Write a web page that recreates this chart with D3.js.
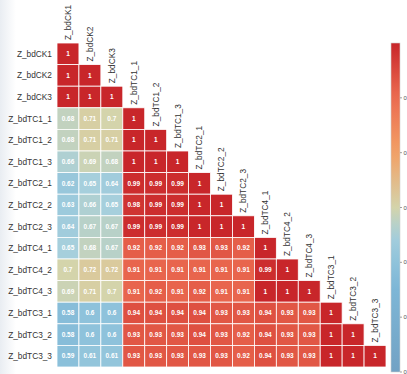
<!DOCTYPE html>
<html>
<head>
<meta charset="utf-8">
<script src="https://cdn.jsdelivr.net/npm/d3@7"></script>
<style>
html,body{margin:0;padding:0;background:#fff;overflow:hidden;}
svg{display:block;}
text{font-family:"Liberation Sans",Arial,sans-serif;}
</style>
</head>
<body>
<div id="chart"></div>
<script>
const variables = ["Z_bdCK1","Z_bdCK2","Z_bdCK3","Z_bdTC1_1","Z_bdTC1_2","Z_bdTC1_3",
  "Z_bdTC2_1","Z_bdTC2_2","Z_bdTC2_3","Z_bdTC4_1","Z_bdTC4_2","Z_bdTC4_3",
  "Z_bdTC3_1","Z_bdTC3_2","Z_bdTC3_3"];

// lower-triangular correlation rows (row i has i+1 values)
const corrRows = [
  [1],
  [1, 1],
  [1, 1, 1],
  [0.68, 0.71, 0.7, 1],
  [0.68, 0.71, 0.71, 1, 1],
  [0.66, 0.69, 0.68, 1, 1, 1],
  [0.62, 0.65, 0.64, 0.99, 0.99, 0.99, 1],
  [0.63, 0.66, 0.65, 0.98, 0.99, 0.99, 1, 1],
  [0.64, 0.67, 0.67, 0.99, 0.99, 0.99, 1, 1, 1],
  [0.65, 0.68, 0.67, 0.92, 0.92, 0.92, 0.93, 0.93, 0.92, 1],
  [0.7, 0.72, 0.72, 0.91, 0.91, 0.91, 0.91, 0.91, 0.91, 0.99, 1],
  [0.69, 0.71, 0.7, 0.91, 0.92, 0.91, 0.92, 0.91, 0.91, 1, 1, 1],
  [0.58, 0.6, 0.6, 0.94, 0.94, 0.94, 0.94, 0.93, 0.93, 0.94, 0.93, 0.93, 1],
  [0.58, 0.6, 0.6, 0.93, 0.93, 0.93, 0.94, 0.93, 0.92, 0.94, 0.93, 0.93, 1, 1],
  [0.59, 0.61, 0.61, 0.93, 0.93, 0.93, 0.93, 0.93, 0.92, 0.94, 0.93, 0.93, 1, 1, 1]
];

const colorStops = [0.4, 0.55, 0.6, 0.65, 0.7, 0.8, 0.9, 1.0];
const colorValues = ["#72a2c4", "#7db6d6", "#8ec2db", "#a6cfdc", "#d4d4ab", "#f2a065", "#ec6c51", "#c8262a"];
const legendTicks = [0.4, 0.5, 0.6, 0.7, 0.8, 0.9];

const W = 407, H = 374;
const svg = d3.select("#chart").append("svg").attr("width", W).attr("height", H);

// faint left-edge shading
const defs = svg.append("defs");
const lg = defs.append("linearGradient").attr("id","edge").attr("x1","0").attr("x2","1");
lg.append("stop").attr("offset","0").attr("stop-color","#e9edf2");
lg.append("stop").attr("offset","1").attr("stop-color","#ffffff");
svg.append("rect").attr("x",0).attr("y",0).attr("width",16).attr("height",H).attr("fill","url(#edge)");

const x = d3.scaleBand().domain(variables).range([57, 386]).padding(0);
const y = d3.scaleBand().domain(variables).range([43, 367]).padding(0);
const color = d3.scaleLinear().domain(colorStops).range(colorValues).clamp(true);

const cells = [];
corrRows.forEach((row, i) => row.forEach((v, j) => cells.push({r: variables[i], c: variables[j], v})));

svg.append("g").selectAll("rect").data(cells).join("rect")
  .attr("x", d => x(d.c)).attr("y", d => y(d.r))
  .attr("width", x.bandwidth()).attr("height", y.bandwidth())
  .attr("fill", d => color(d.v))
  .attr("stroke", "#ffffff").attr("stroke-width", 0.8);

svg.append("g").selectAll("text").data(cells).join("text")
  .attr("x", d => x(d.c) + x.bandwidth()/2)
  .attr("y", d => y(d.r) + y.bandwidth()/2)
  .attr("text-anchor", "middle").attr("dy", "0.35em")
  .attr("fill", "#ffffff").attr("font-size", "6.5px").attr("font-weight", "bold")
  .text(d => String(d.v));

// row labels
svg.append("g").selectAll("text").data(variables).join("text")
  .attr("x", 52).attr("y", d => y(d) + y.bandwidth()/2)
  .attr("text-anchor", "end").attr("dy", "0.35em")
  .attr("fill", "#333").attr("font-size", "8.3px")
  .text(d => d);

// column labels above diagonal
svg.append("g").selectAll("text").data(variables).join("text")
  .attr("transform", d => `translate(${x(d) + x.bandwidth()/2},${y(d) - 3}) rotate(-90)`)
  .attr("text-anchor", "start").attr("dy", "0.35em")
  .attr("fill", "#333").attr("font-size", "8.3px")
  .text(d => d);

// colour bar
const ly = d3.scaleLinear().domain([0.4, 1.0]).range([372, 43]);
const cg = defs.append("linearGradient").attr("id","cbar").attr("x1","0").attr("x2","0").attr("y1","1").attr("y2","0");
d3.range(0, 1.0001, 0.05).forEach(t => {
  const v = 0.4 + t*0.6;
  cg.append("stop").attr("offset", t).attr("stop-color", color(v));
});
svg.append("rect").attr("x", 391).attr("y", 43).attr("width", 9).attr("height", 329)
  .attr("fill", "url(#cbar)").attr("stroke", "#d0d0d0").attr("stroke-width", 0.6);
const lt = svg.append("g");
lt.selectAll("line").data(legendTicks).join("line")
  .attr("x1", 400).attr("x2", 402).attr("y1", d => ly(d)).attr("y2", d => ly(d))
  .attr("stroke", "#666").attr("stroke-width", 0.6);
lt.selectAll("text").data(legendTicks).join("text")
  .attr("x", 403.5).attr("y", d => ly(d)).attr("dy", "0.35em")
  .attr("fill", "#555").attr("font-size", "6px")
  .text(d => d.toFixed(1));
</script>
</body>
</html>
